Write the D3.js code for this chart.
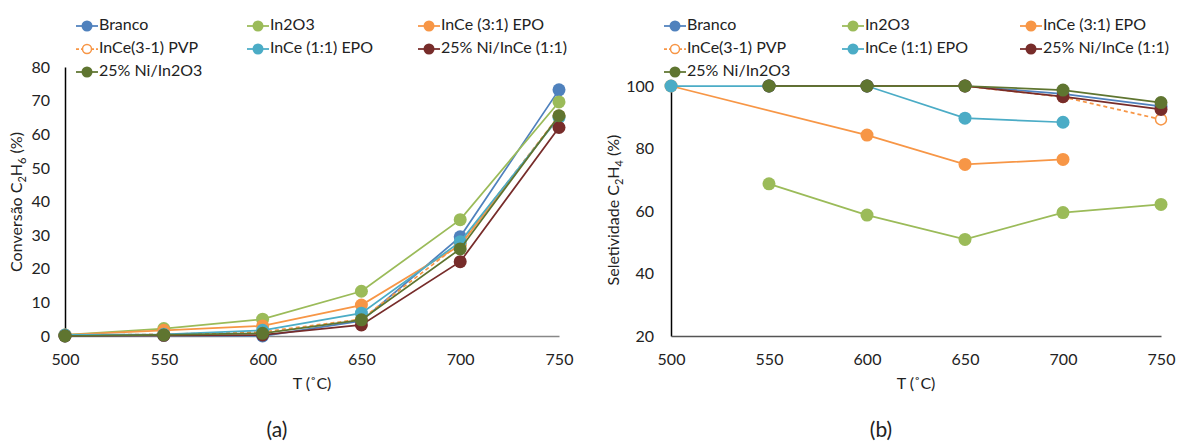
<!DOCTYPE html>
<html>
<head>
<meta charset="utf-8">
<script src="https://cdn.jsdelivr.net/npm/d3@7"></script>
<style>
  html, body { margin: 0; padding: 0; background: #fff; }
  svg text { font-family: Lato, "Open Sans", sans-serif; fill: #222; }
</style>
</head>
<body>
<svg id="fig" width="1179" height="444"></svg>
<script>
// Temperatures (°C)
const temperatures = [500, 550, 600, 650, 700, 750];

// Catalyst series names (legend order = draw order)
const seriesNames = ["Branco", "In2O3", "InCe (3:1) EPO", "InCe(3-1) PVP", "InCe (1:1) EPO", "25% Ni/InCe (1:1)", "25% Ni/In2O3"];
const seriesColors = ["#4F81BD", "#9BBB59", "#F79646", "#F79646", "#4BACC6", "#772C2A", "#5F7530"];
const seriesDashed = [false, false, false, true, false, false, false];

// (a) Conversão C2H6 (%)
const convBranco   = [0, 0.2, 0, 4.5, 29.5, 73.2];
const convIn2O3    = [0.3, 2.2, 5.0, 13.3, 34.6, 69.6];
const convInCe31   = [0.3, 1.7, 3.0, 9.2, 27.0, 65.3];
const convInCePVP  = [0.2, 0.5, 1.2, 5.0, 27.5, 65.5];
const convInCe11   = [0.3, 0.5, 1.7, 6.8, 28.0, 65.0];
const convNiInCe   = [0, 0.2, 0.3, 3.3, 22.1, 62.0];
const convNiIn2O3  = [0, 0.3, 0.8, 4.8, 25.9, 65.5];

// (b) Seletividade C2H4 (%)  (null = not measured)
const selBranco    = [null, 100, 100, 100, 97.5, 93.5];
const selIn2O3     = [null, 68.7, 58.7, 50.9, 59.5, 62.1];
const selInCe31    = [100, null, 84.3, 74.9, 76.5, null];
const selInCePVP   = [null, null, 100, 100, 96.5, 89.3];
const selInCe11    = [100, 100, 100, 89.7, 88.4, null];
const selNiInCe    = [null, 100, 100, 100, 96.6, 92.5];
const selNiIn2O3   = [null, 100, 100, 100, 98.7, 94.7];

const convTicks = [0, 10, 20, 30, 40, 50, 60, 70, 80];
const selTicks = [20, 40, 60, 80, 100];

const convData = [convBranco, convIn2O3, convInCe31, convInCePVP, convInCe11, convNiInCe, convNiIn2O3];
const selData  = [selBranco, selIn2O3, selInCe31, selInCePVP, selInCe11, selNiInCe, selNiIn2O3];

const FONT = "Lato, 'Open Sans', sans-serif";
const svg = d3.select("#fig");

function panel(cfg) {
  const g = svg.append("g");
  const x = d3.scaleLinear().domain([500, 750]).range([cfg.x0, cfg.x1]);
  const y = d3.scaleLinear().domain(cfg.yDomain).range([cfg.yBottom, cfg.yTop]);

  // y axis: line + labels, no tick marks
  const yAxis = d3.axisLeft(y).tickValues(cfg.yTicks).tickSize(0).tickPadding(cfg.yPad);
  const ya = g.append("g").attr("transform", `translate(${cfg.x0},0)`).call(yAxis);
  ya.select(".domain").attr("stroke", "#000").attr("stroke-width", 1.5);
  ya.selectAll("text").attr("font-size", 16).attr("fill", "#222").attr("font-family", FONT);

  // x axis at baseline
  const xAxis = d3.axisBottom(x).tickValues(temperatures).tickSize(0).tickPadding(0).tickFormat(d3.format("d"));
  const xa = g.append("g").attr("transform", `translate(0,${y(cfg.yDomain[0])})`).call(xAxis);
  xa.select(".domain").attr("stroke", cfg.xAxisColor).attr("stroke-width", 1.5);
  xa.selectAll("text").attr("font-size", 16).attr("fill", "#222").attr("dy", null)
    .attr("y", 0).attr("transform", `translate(0,${cfg.xLabelY - y(cfg.yDomain[0])})`)
    .attr("dominant-baseline", "middle").attr("font-family", FONT);

  // axis titles
  g.append("text").attr("x", (cfg.x0 + cfg.x1) / 2).attr("y", cfg.xTitleY)
    .attr("text-anchor", "middle").attr("font-size", 16).text("T (˚C)");
  const yt = g.append("text").attr("transform", `translate(${cfg.yTitleX},${cfg.yTitleY}) rotate(-90)`)
    .attr("text-anchor", "middle").attr("font-size", 16);
  yt.append("tspan").text(cfg.yTitle[0] + " C");
  yt.append("tspan").attr("font-size", 11).attr("dy", 4).text("2");
  yt.append("tspan").attr("dy", -4).text("H");
  yt.append("tspan").attr("font-size", 11).attr("dy", 4).text(cfg.yTitle[1]);
  yt.append("tspan").attr("dy", -4).text(" (%)");

  // series: missing values are skipped, neighbours joined directly
  const line = d3.line().x(d => x(d.t)).y(d => y(d.v));
  cfg.data.forEach((vals, i) => {
    const pts = temperatures.map((t, k) => ({ t, v: vals[k] })).filter(d => d.v != null);
    g.append("path").datum(pts).attr("d", line).attr("fill", "none")
      .attr("stroke", seriesColors[i]).attr("stroke-width", 1.75)
      .attr("stroke-dasharray", seriesDashed[i] ? "4,3" : null);
    g.selectAll(null).data(pts).enter().append("circle")
      .attr("cx", d => x(d.t)).attr("cy", d => y(d.v)).attr("r", seriesDashed[i] ? 5.5 : 6.5)
      .attr("fill", seriesDashed[i] ? "#fff" : seriesColors[i])
      .attr("stroke", seriesColors[i]).attr("stroke-width", seriesDashed[i] ? 1.5 : 0);
  });

  // legend: 3 columns
  seriesNames.forEach((name, i) => {
    const col = i % 3, row = Math.floor(i / 3);
    const lx = cfg.legX + col * cfg.legColW, ly = cfg.legY + row * 23;
    const lg = g.append("g").attr("transform", `translate(${lx},${ly})`);
    lg.append("line").attr("x1", 0).attr("x2", 22).attr("y1", 0).attr("y2", 0)
      .attr("stroke", seriesColors[i]).attr("stroke-width", 1.75)
      .attr("stroke-dasharray", seriesDashed[i] ? "3,2" : null);
    lg.append("circle").attr("cx", 11).attr("cy", 0).attr("r", seriesDashed[i] ? 4.5 : 5.5)
      .attr("fill", seriesDashed[i] ? "#fff" : seriesColors[i])
      .attr("stroke", seriesColors[i]).attr("stroke-width", seriesDashed[i] ? 1.5 : 0);
    lg.append("text").attr("x", 23).attr("y", 0).attr("dominant-baseline", "middle")
      .attr("font-size", 16).text(name);
  });

  // panel label
  g.append("text").attr("x", cfg.labX).attr("y", 432).attr("text-anchor", "middle")
    .attr("dominant-baseline", "middle").attr("font-size", 21).text(cfg.label);
}

panel({
  x0: 65, x1: 559, yTop: 67, yBottom: 336, yDomain: [0, 80], yTicks: convTicks, yPad: 15,
  xAxisColor: "#888", xLabelY: 361, xTitleY: 389, yTitleX: 22, yTitleY: 202,
  yTitle: ["Conversão", "6"], data: convData,
  legX: 76, legY: 26, legColW: 171, labX: 277, label: "(a)"
});

panel({
  x0: 671, x1: 1161, yTop: 86, yBottom: 336, yDomain: [20, 100], yTicks: selTicks, yPad: 17,
  xAxisColor: "#555", xLabelY: 361, xTitleY: 389, yTitleX: 619, yTitleY: 210,
  yTitle: ["Seletividade", "4"], data: selData,
  legX: 664, legY: 26, legColW: 178, labX: 881, label: "(b)"
});
</script>
</body>
</html>
